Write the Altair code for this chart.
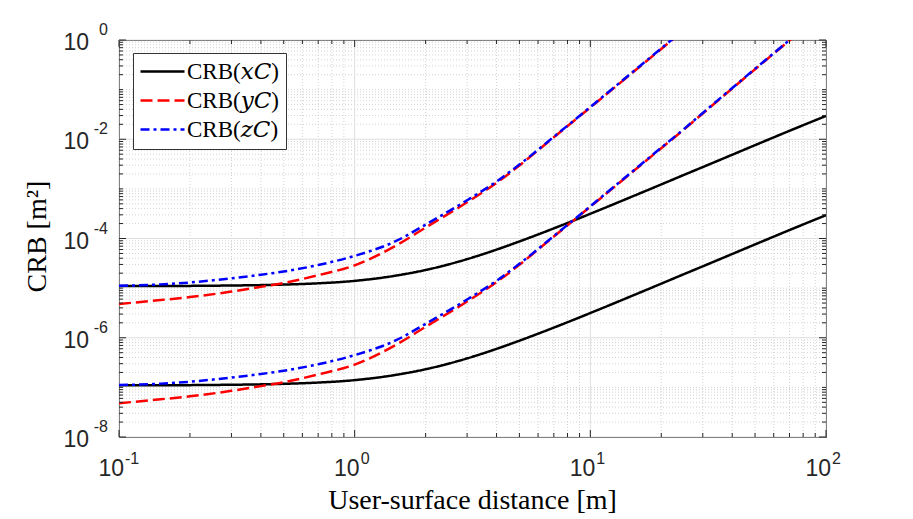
import altair as alt
import pandas as pd

# ---------------- values ----------------
dist_upper_yz = [0.1, 0.15, 0.2, 0.3, 0.4, 0.5, 0.7, 1, 1.5, 2, 3, 4, 5, 7, 10, 15, 20, 25]
dist_x = [0.1, 0.15, 0.2, 0.3, 0.4, 0.5, 0.7, 1, 1.5, 2, 3, 4, 5, 7, 10, 15, 20, 25, 30, 50, 70, 100]
dist_lower_yz = [0.1, 0.15, 0.2, 0.3, 0.4, 0.5, 0.7, 1, 1.5, 2, 3, 4, 5, 7, 10, 15, 20, 25, 30, 50, 70, 80]

crb_x_upper = [1.10e-5, 1.11e-5, 1.11e-5, 1.13e-5, 1.15e-5, 1.18e-5, 1.25e-5, 1.40e-5, 1.79e-5, 2.32e-5,
               3.84e-5, 5.97e-5, 8.72e-5, 1.60e-4, 3.15e-4, 6.96e-4, 1.23e-3, 1.92e-3, 2.75e-3, 7.6e-3,
               1.48e-2, 2.95e-2]
crb_y_upper = [4.79e-6, 5.75e-6, 6.61e-6, 8.51e-6, 1.06e-5, 1.27e-5, 1.82e-5, 2.88e-5, 7.24e-5, 1.66e-4,
               5.37e-4, 1.32e-3, 2.95e-3, 1.10e-2, 4.37e-2, 0.214, 0.661, 1.58]
crb_z_upper = [1.11e-5, 1.19e-5, 1.30e-5, 1.58e-5, 1.86e-5, 2.16e-5, 2.92e-5, 4.47e-5, 8.91e-5, 1.91e-4,
               5.89e-4, 1.41e-3, 3.09e-3, 1.12e-2, 4.47e-2, 0.219, 0.676, 1.62]
crb_x_lower = [1.10e-7, 1.11e-7, 1.11e-7, 1.13e-7, 1.15e-7, 1.18e-7, 1.25e-7, 1.40e-7, 1.79e-7, 2.32e-7,
               3.84e-7, 5.97e-7, 8.72e-7, 1.60e-6, 3.15e-6, 6.96e-6, 1.23e-5, 1.92e-5, 2.75e-5, 7.6e-5,
               1.48e-4, 2.95e-4]
crb_y_lower = [4.79e-8, 5.75e-8, 6.61e-8, 8.51e-8, 1.06e-7, 1.27e-7, 1.82e-7, 2.88e-7, 7.24e-7, 1.66e-6,
               5.37e-6, 1.32e-5, 2.95e-5, 1.10e-4, 4.37e-4, 2.14e-3, 6.61e-3, 1.58e-2, 3.31e-2, 0.257,
               0.977, 1.63]
crb_z_lower = [1.11e-7, 1.19e-7, 1.30e-7, 1.58e-7, 1.86e-7, 2.16e-7, 2.92e-7, 4.47e-7, 8.91e-7, 1.91e-6,
               5.89e-6, 1.41e-5, 3.09e-5, 1.12e-4, 4.47e-4, 2.19e-3, 6.76e-3, 1.62e-2, 3.39e-2, 0.263,
               1.0, 1.70]

series_names = ["CRB(\U0001D465\U0001D436)", "CRB(\U0001D466\U0001D436)", "CRB(\U0001D467\U0001D436)"]
series_colors = ["#000000", "#ff0000", "#0000ff"]
series_dashes = [[1, 0], [12, 5], [9, 4, 3, 4]]

x_tick_values = [0.1, 1, 10, 100]
x_tick_exponents = ["-1", "0", "1", "2"]
y_tick_values = [1e-8, 1e-6, 1e-4, 1e-2, 1]
y_tick_exponents = ["-8", "-6", "-4", "-2", "0"]

x_title = "User-surface distance [m]"
y_title = "CRB [m²]"

x_minor_values = [m * 10.0 ** k for k in (-1, 0, 1) for m in range(2, 10)]
y_minor_values = [m * 10.0 ** k for k in range(-8, 0) for m in range(1, 10)
                  if not (m == 1 and k % 2 == 0)]

# ---------------- tables ----------------
rows = []
for name, grp, xs, ys in [
    (series_names[0], "upper", dist_x, crb_x_upper),
    (series_names[0], "lower", dist_x, crb_x_lower),
    (series_names[1], "upper", dist_upper_yz, crb_y_upper),
    (series_names[1], "lower", dist_lower_yz, crb_y_lower),
    (series_names[2], "upper", dist_upper_yz, crb_z_upper),
    (series_names[2], "lower", dist_lower_yz, crb_z_lower),
]:
    for xv, yv in zip(xs, ys):
        rows.append({"dist": xv, "crb": yv, "series": name, "grp": grp})
df = pd.DataFrame(rows)

W, H = 707, 397
xs_ = alt.Scale(type="log", domain=[0.1, 100], nice=False)
ys_ = alt.Scale(type="log", domain=[1e-8, 1], nice=False)

df_xmaj = pd.DataFrame({"v": x_tick_values, "e": x_tick_exponents, "b": ["10"] * 4})
df_ymaj = pd.DataFrame({"v": y_tick_values, "e": y_tick_exponents, "b": ["10"] * 5})
df_xmin = pd.DataFrame({"v": x_minor_values})
df_ymin = pd.DataFrame({"v": y_minor_values})
df_xt = pd.DataFrame({"t": [x_title]})
df_yt = pd.DataFrame({"t": [y_title]})

grid_major_col = "#dedede"
grid_minor_col = "#c8c8c8"
frame_col = "#262626"

xg_min = alt.Chart(df_xmin).mark_rule(color=grid_minor_col, strokeWidth=0.8, strokeDash=[1, 2]).encode(
    x=alt.X("v:Q", scale=xs_, axis=None))
yg_min = alt.Chart(df_ymin).mark_rule(color=grid_minor_col, strokeWidth=0.8, strokeDash=[1, 2]).encode(
    y=alt.Y("v:Q", scale=ys_, axis=None))
xg_maj = alt.Chart(df_xmaj).mark_rule(color=grid_major_col, strokeWidth=1).encode(
    x=alt.X("v:Q", scale=xs_, axis=None))
yg_maj = alt.Chart(df_ymaj).mark_rule(color=grid_major_col, strokeWidth=1).encode(
    y=alt.Y("v:Q", scale=ys_, axis=None))

legend = alt.Legend(
    title=None, orient="none", legendX=14, legendY=13,
    symbolType="M-2.2,0H2.2", symbolSize=400, symbolStrokeWidth=2.4, symbolOffset=11,
    labelOffset=13, labelFont="Liberation Serif, DejaVu Serif, serif", labelFontSize=23,
    labelColor="#000000", labelLimit=400, padding=7, rowPadding=5, strokeColor="#333333",
    fillColor="#ffffff", cornerRadius=0,
)
color_enc = alt.Color("series:N", scale=alt.Scale(domain=series_names, range=series_colors), legend=legend)
dash_enc = alt.StrokeDash("series:N", scale=alt.Scale(domain=series_names, range=series_dashes), legend=legend)


def line_layer(name):
    return alt.Chart(df[df["series"] == name]).mark_line(
        strokeWidth=2.5, clip=True, interpolate="monotone").encode(
        x=alt.X("dist:Q", scale=xs_, axis=None),
        y=alt.Y("crb:Q", scale=ys_, axis=None),
        color=color_enc,
        strokeDash=dash_enc,
        detail="grp:N",
    )


lines = [line_layer(n) for n in series_names]

MAJ, MIN = 7, 4
tick_style = dict(color=frame_col, strokeWidth=1)


def xticks(d, L):
    b = alt.Chart(d).mark_rule(**tick_style).encode(
        x=alt.X("v:Q", scale=xs_, axis=None), y=alt.value(H), y2=alt.value(H - L))
    t = alt.Chart(d).mark_rule(**tick_style).encode(
        x=alt.X("v:Q", scale=xs_, axis=None), y=alt.value(0), y2=alt.value(L))
    return [b, t]


def yticks(d, L):
    l = alt.Chart(d).mark_rule(**tick_style).encode(
        y=alt.Y("v:Q", scale=ys_, axis=None), x=alt.value(0), x2=alt.value(L))
    r = alt.Chart(d).mark_rule(**tick_style).encode(
        y=alt.Y("v:Q", scale=ys_, axis=None), x=alt.value(W), x2=alt.value(W - L))
    return [l, r]


ticks = xticks(df_xmaj, MAJ) + xticks(df_xmin, MIN) + yticks(df_ymaj, MAJ) + yticks(df_ymin, MIN)

lab_font = "Liberation Sans"
lab_col = "#262626"
xl_base = alt.Chart(df_xmaj).mark_text(font=lab_font, fontSize=23, align="right", baseline="middle",
                                       dx=5, color=lab_col).encode(
    x=alt.X("v:Q", scale=xs_, axis=None), y=alt.value(H + 32), text="b:N")
xl_exp = alt.Chart(df_xmaj).mark_text(font=lab_font, fontSize=16, align="left", baseline="middle",
                                      dx=6, color=lab_col).encode(
    x=alt.X("v:Q", scale=xs_, axis=None), y=alt.value(H + 22), text="e:N")
yl_base = alt.Chart(df_ymaj).mark_text(font=lab_font, fontSize=23, align="right", baseline="middle",
                                       dy=3, color=lab_col).encode(
    y=alt.Y("v:Q", scale=ys_, axis=None), x=alt.value(-30), text="b:N")
yl_exp = alt.Chart(df_ymaj).mark_text(font=lab_font, fontSize=16, align="right", baseline="middle",
                                      dy=-10, color=lab_col).encode(
    y=alt.Y("v:Q", scale=ys_, axis=None), x=alt.value(-11), text="e:N")

title_font = "Liberation Serif"
xt = alt.Chart(df_xt).mark_text(font=title_font, fontSize=28, align="center", baseline="alphabetic",
                                color="#000000").encode(
    x=alt.value(W / 2), y=alt.value(H + 72), text="t:N")
yt = alt.Chart(df_yt).mark_text(font=title_font, fontSize=28, align="center", baseline="middle",
                                angle=270, color="#000000").encode(
    x=alt.value(-81), y=alt.value(H / 2 - 2), text="t:N")

chart = alt.layer(
    xg_min, yg_min, xg_maj, yg_maj, *lines, *ticks, xl_base, xl_exp, yl_base, yl_exp, xt, yt
).properties(
    width=W, height=H,
    padding={"left": 111, "top": 32, "right": 79, "bottom": 82},
    autosize=alt.AutoSizeParams(type="none"),
    background="#ffffff",
).configure_view(stroke=frame_col, strokeWidth=1)

chart.save("out.html", embed_options={"renderer": "svg", "actions": False})
